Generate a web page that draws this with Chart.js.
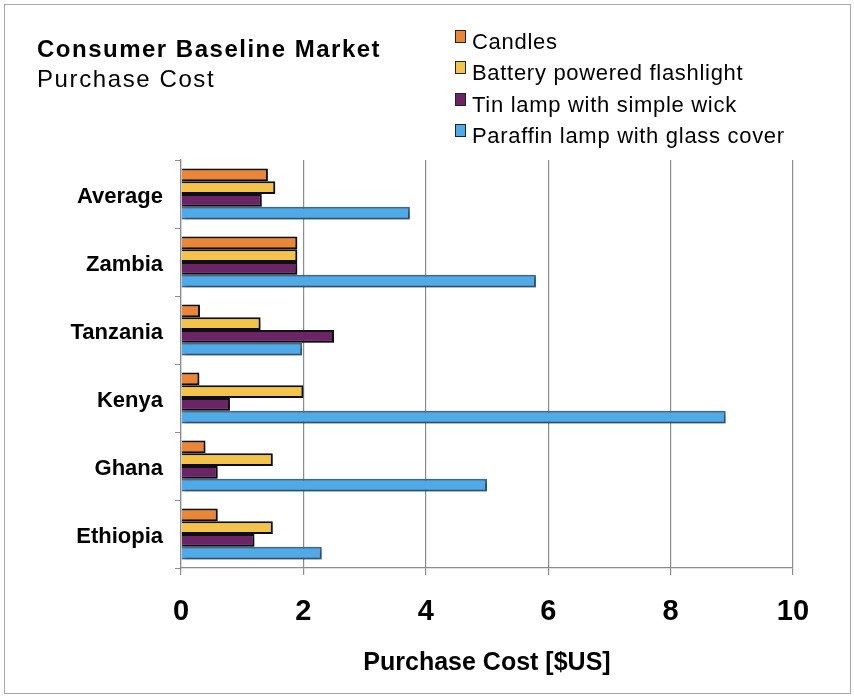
<!DOCTYPE html>
<html>
<head>
<meta charset="utf-8">
<script src="https://cdn.jsdelivr.net/npm/chart.js@4.4.0/dist/chart.umd.min.js"></script>
<style>
  html, body { margin: 0; padding: 0; background: #fff; }
  #wrap { position: relative; width: 854px; height: 697px; font-family: "Liberation Sans", Arial, sans-serif; }
  #frame { position: absolute; left: 4px; top: 4px; width: 847px; height: 690px; border: 1px solid #a8a8a8; box-sizing: border-box; }
  #title { position: absolute; left: 37px; top: 34px; font-size: 24px; line-height: 30px; color: #000; letter-spacing: 1.6px; }
  #title b { font-weight: bold; letter-spacing: 1.5px; }
  #legend { position: absolute; left: 455px; top: 27px; font-size: 22px; color: #000; letter-spacing: 0.7px; }
  .item { height: 31.3px; line-height: 30px; white-space: nowrap; }
  .box { display: inline-block; width: 9px; height: 11px; border: 1px solid #222; margin-right: 6px; vertical-align: 6px; }
  canvas { position: absolute; left: 0; top: 0; }
</style>
</head>
<body>
<div id="wrap">
  <div id="frame"></div>
  <canvas id="chart" width="854" height="697"></canvas>
  <div id="title"><b>Consumer Baseline Market</b><br>Purchase Cost</div>
  <div id="legend"></div>
</div>
<script>
// data
const countries = ['Average', 'Zambia', 'Tanzania', 'Kenya', 'Ghana', 'Ethiopia'];
const candles   = [1.42, 1.9, 0.31, 0.3, 0.4, 0.6];
const flashlight = [1.54, 1.9, 1.3, 2.0, 1.5, 1.5];
const tinLamp   = [1.32, 1.9, 2.5, 0.8, 0.6, 1.2];
const paraffin  = [3.74, 5.8, 1.98, 8.9, 5.0, 2.3];
const seriesNames = ['Candles', 'Battery powered flashlight', 'Tin lamp with simple wick', 'Paraffin lamp with glass cover'];
const seriesColors = ['#ec8535', '#f4c44a', '#6b2466', '#4faae9'];
const seriesBorders = ['#111', '#111', '#111', '#3b6e98'];
const xTicks = [0, 2, 4, 6, 8, 10];

const values = [candles, flashlight, tinLamp, paraffin];

// html legend
const legendEl = document.getElementById('legend');
seriesNames.forEach((name, i) => {
    const row = document.createElement('div');
    row.className = 'item';
    row.innerHTML = '<span class="box" style="background:' + seriesColors[i] + '"></span>' + name;
    legendEl.appendChild(row);
});

const shadowPlugin = {
    id: 'barShadow',
    beforeDatasetsDraw(chart) {
        const ctx = chart.ctx;
        ctx.save();
        ctx.shadowColor = 'rgba(0,0,0,0.4)';
        ctx.shadowBlur = 4;
        ctx.shadowOffsetX = 2;
        ctx.shadowOffsetY = 2;
    },
    afterDatasetsDraw(chart) {
        chart.ctx.restore();
    }
};

const font = 'Liberation Sans, Arial, sans-serif';

new Chart(document.getElementById('chart'), {
    type: 'bar',
    data: {
        labels: countries,
        datasets: values.map((v, i) => ({
            label: seriesNames[i],
            data: v,
            backgroundColor: seriesColors[i],
            borderColor: seriesBorders[i],
            borderWidth: 2,
            categoryPercentage: 0.75,
            barPercentage: 1.0
        }))
    },
    options: {
        indexAxis: 'y',
        responsive: false,
        animation: false,
        layout: { padding: { top: 160, right: 61, left: 0, bottom: 15 } },
        plugins: {
            legend: { display: false },
            tooltip: { enabled: false }
        },
        scales: {
            x: {
                min: 0,
                max: 10,
                afterBuildTicks(scale) { scale.ticks = xTicks.map(v => ({ value: v })); },
                afterFit(scale) { scale.height = 114; },
                grid: { color: '#8c8c8c', lineWidth: 1.2, tickLength: 7, drawTicks: true },
                border: { display: true, color: '#8c8c8c', width: 1.2 },
                ticks: {
                    color: '#000',
                    padding: 20,
                    font: { family: font, size: 29, weight: 'bold' }
                },
                title: {
                    display: true,
                    text: 'Purchase Cost [$US]',
                    color: '#000',
                    padding: { top: 4, bottom: 4 },
                    font: { family: font, size: 25, weight: 'bold' }
                }
            },
            y: {
                afterFit(scale) { scale.width = 181; },
                grid: { drawOnChartArea: false, drawTicks: true, tickLength: 6, color: '#8c8c8c', offset: true },
                border: { display: true, color: '#8c8c8c', width: 1.2 },
                ticks: {
                    color: '#000',
                    padding: 12,
                    labelOffset: 3,
                    font: { family: font, size: 22, weight: 'bold' }
                }
            }
        }
    },
    plugins: [shadowPlugin]
});
</script>
</body>
</html>
